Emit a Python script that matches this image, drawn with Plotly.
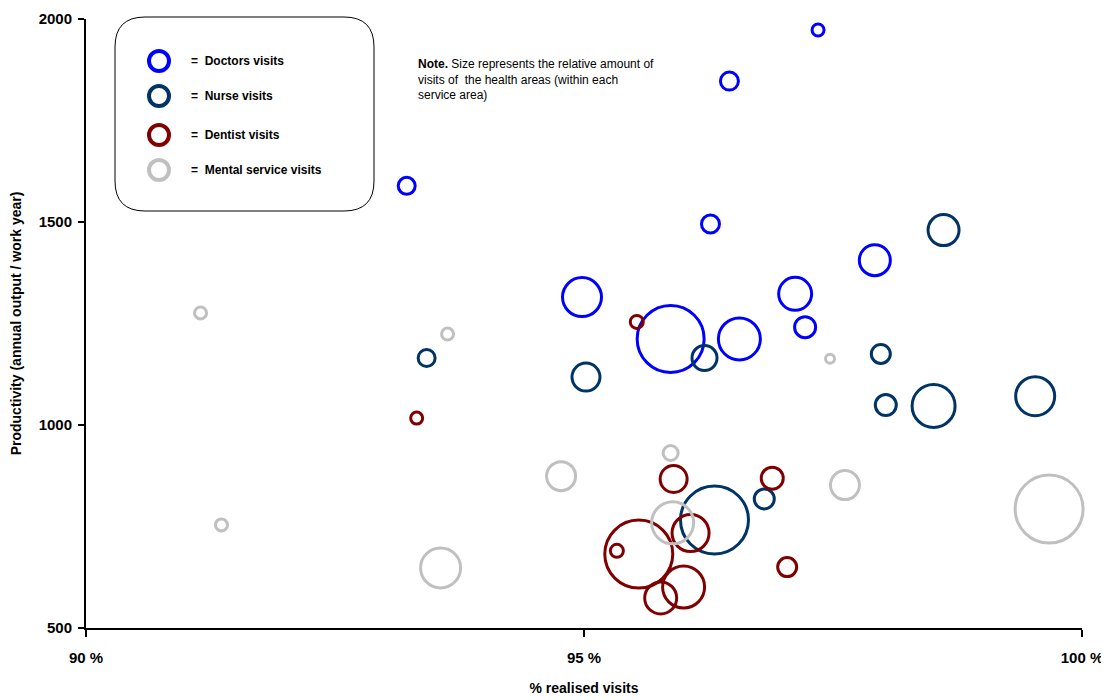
import plotly.graph_objects as go

# ---------------- data ----------------
doctors_x = [97.35, 96.46, 93.22, 96.27, 97.92, 97.12, 97.22, 94.98, 95.87, 96.56]
doctors_y = [1973, 1847, 1589, 1495, 1406, 1323, 1241, 1315, 1212, 1212]
doctors_size = [12, 18, 17, 18, 31, 33, 21, 39, 67, 42]

nurse_x = [98.61, 93.42, 95.02, 96.21, 97.98, 98.03, 98.51, 99.53, 96.31, 96.81]
nurse_y = [1480, 1165, 1118, 1165, 1175, 1049, 1047, 1071, 766, 818]
nurse_size = [31, 17, 28, 25, 19, 21, 43, 39, 68, 20]

dentist_x = [95.53, 93.32, 95.90, 96.89, 96.07, 95.55, 95.33, 96.00, 95.77, 97.04]
dentist_y = [1254, 1017, 867, 869, 734, 682, 690, 601, 574, 650]
dentist_size = [13, 12, 27, 22, 37, 68, 13, 42, 32, 19]

mental_x = [91.15, 93.63, 97.47, 91.36, 93.56, 94.77, 95.87, 95.89, 97.62, 99.67]
mental_y = [1276, 1224, 1163, 754, 648, 874, 931, 759, 852, 793]
mental_size = [12, 12, 9, 12, 40, 29, 15, 42, 29, 68]

x_ticks = [90, 95, 100]
x_ticklabels = ["90 %", "95 %", "100 %"]
y_ticks = [500, 1000, 1500, 2000]

series_names = ["Doctors visits", "Nurse visits", "Dentist visits", "Mental service visits"]
series_colors = ["#0000FF", "#003366", "#800000", "#C0C0C0"]

FONT = "Liberation Sans, Arial, sans-serif"

fig = go.Figure()
series = [
    (doctors_x, doctors_y, doctors_size),
    (nurse_x, nurse_y, nurse_size),
    (dentist_x, dentist_y, dentist_size),
    (mental_x, mental_y, mental_size),
]
for (xs, ys, ss), name, col in zip(series, series_names, series_colors):
    fig.add_trace(go.Scatter(
        x=xs, y=ys, mode="markers", name=name,
        marker=dict(size=ss, sizemode="diameter", sizeref=1, opacity=1,
                    color="rgba(0,0,0,0)", line=dict(color=col, width=3)),
        showlegend=False, cliponaxis=False,
    ))

# page body has an 8px margin; figure is sized so the plot area lands at
# screen x 86..1082, y 19..628
OFF = 8
W, H = 1109 - OFF, 700 - OFF
L, T = 86 - OFF, 19 - OFF
R = W - (1082 - OFF)
B = H - (628 - OFF)
PW, PH = W - L - R, H - T - B

def px(xs):
    return (xs - OFF - L) / PW

def py(ys):
    return (H - B - (ys - OFF)) / PH

# rounded legend box (screen pixels)
x0, x1, y0, y1, rad = 115, 374, 17, 211, 30
rx, ry = rad / PW, rad / PH
X0, X1, Y0, Y1 = px(x0), px(x1), py(y0), py(y1)
path = (f"M {X0+rx},{Y0} L {X1-rx},{Y0} Q {X1},{Y0} {X1},{Y0-ry} "
        f"L {X1},{Y1+ry} Q {X1},{Y1} {X1-rx},{Y1} "
        f"L {X0+rx},{Y1} Q {X0},{Y1} {X0},{Y1+ry} "
        f"L {X0},{Y0-ry} Q {X0},{Y0} {X0+rx},{Y0} Z")
shapes = [dict(type="path", xref="paper", yref="paper", path=path,
               line=dict(color="black", width=1), fillcolor="white", layer="below")]

legend_y = [61, 96, 135, 170]
annotations = []
for ly, name, col in zip(legend_y, series_names, series_colors):
    shapes.append(dict(type="circle", xref="paper", yref="paper",
                       xsizemode="pixel", ysizemode="pixel",
                       xanchor=px(159), yanchor=py(ly),
                       x0=-10, x1=10, y0=-10, y1=10,
                       line=dict(color=col, width=4)))
    annotations.append(dict(xref="paper", yref="paper", x=px(189), y=py(ly),
                            xanchor="left", yanchor="middle", showarrow=False,
                            text="<b>=  " + name + "</b>",
                            font=dict(family=FONT, size=12, color="black")))

annotations.append(dict(
    xref="paper", yref="paper", x=px(416), y=py(55), xanchor="left", yanchor="top",
    align="left", showarrow=False,
    text="<b>Note.</b> Size represents the relative amount of<br>visits of  the health areas (within each<br>service area)",
    font=dict(family=FONT, size=12, color="black")))

fig.update_layout(
    width=W, height=H,
    margin=dict(l=L, r=R, t=T, b=B, autoexpand=False),
    paper_bgcolor="white", plot_bgcolor="white",
    shapes=shapes, annotations=annotations,
    showlegend=False,
    xaxis=dict(range=[90, 100], tickvals=x_ticks, ticktext=x_ticklabels, automargin=False,
               showgrid=False, zeroline=False, showline=True, linecolor="black", linewidth=2,
               ticks="outside", ticklen=7, tickwidth=1.5, tickcolor="black",
               ticklabelstandoff=8,
               tickfont=dict(family=FONT, size=15, color="black", weight="bold"),
               title=dict(text="<b>% realised visits</b>", standoff=18,
                          font=dict(family=FONT, size=14, color="black"))),
    yaxis=dict(range=[500, 2000], tickvals=y_ticks, automargin=False,
               showgrid=False, zeroline=False, showline=True, linecolor="black", linewidth=2,
               ticks="outside", ticklen=6, tickwidth=1.5, tickcolor="black",
               ticklabelstandoff=3,
               tickfont=dict(family=FONT, size=15, color="black", weight="bold"),
               title=dict(text="<b>Productivity (annual output / work year)</b>", standoff=16,
                          font=dict(family=FONT, size=14, color="black"))),
)

fig.write_html("out.html")
